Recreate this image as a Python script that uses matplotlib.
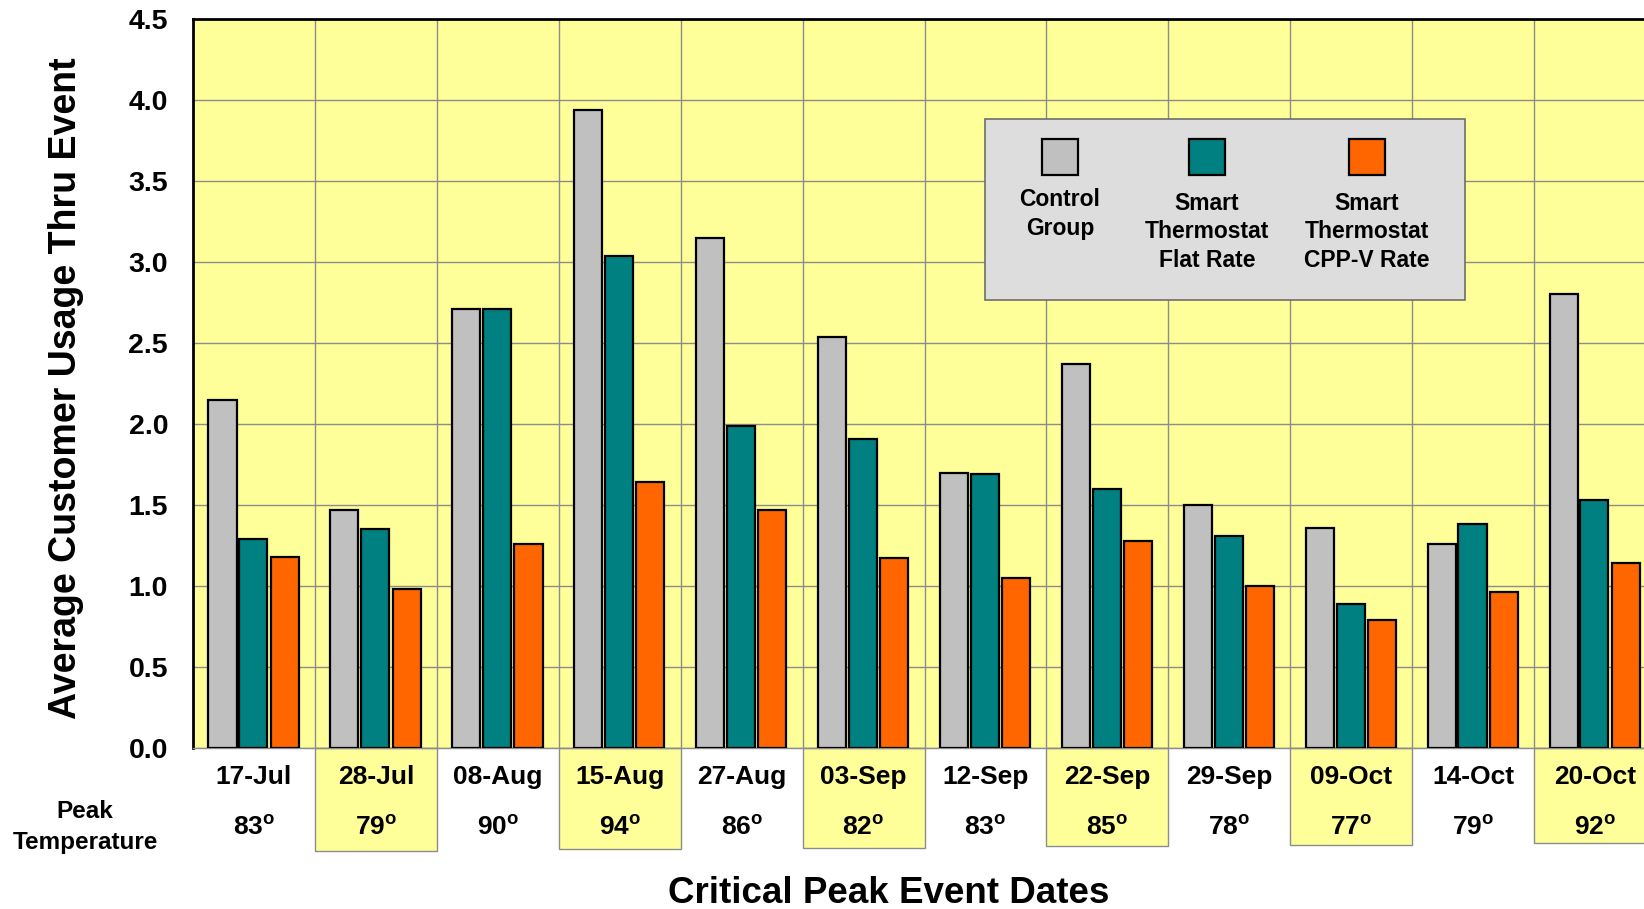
import matplotlib
matplotlib.use("Agg")
import matplotlib.pyplot as plt
import matplotlib.transforms as mtransforms
from matplotlib.patches import Rectangle
import numpy as np

# ---------------- data ----------------
dates = ["17-Jul", "28-Jul", "08-Aug", "15-Aug", "27-Aug", "03-Sep",
         "12-Sep", "22-Sep", "29-Sep", "09-Oct", "14-Oct", "20-Oct"]
peak_temps = [83, 79, 90, 94, 86, 82, 83, 85, 78, 77, 79, 92]
control_group = [2.15, 1.47, 2.71, 3.94, 3.15, 2.54, 1.70, 2.37, 1.50, 1.36, 1.26, 2.80]
flat_rate = [1.29, 1.35, 2.71, 3.04, 1.99, 1.91, 1.69, 1.60, 1.31, 0.89, 1.38, 1.53]
cppv_rate = [1.18, 0.98, 1.26, 1.64, 1.47, 1.17, 1.05, 1.28, 1.00, 0.79, 0.96, 1.14]
series_names = ["Control\nGroup", "Smart\nThermostat\nFlat Rate", "Smart\nThermostat\nCPP-V Rate"]
y_ticks = [0.0, 0.5, 1.0, 1.5, 2.0, 2.5, 3.0, 3.5, 4.0, 4.5]

# ---------------- style ----------------
W, H = 1644, 909
YELLOW = "#FFFF99"
colors = ["#C0C0C0", "#008080", "#FF6600"]
FONT = ["Liberation Sans", "DejaVu Sans"]
plt.rcParams["font.family"] = FONT
plt.rcParams["font.weight"] = "bold"
plt.rcParams["mathtext.fontset"] = "custom"
plt.rcParams["mathtext.rm"] = "Liberation Sans:bold"
plt.rcParams["mathtext.bf"] = "Liberation Sans:bold"


def fx(x):
    return x / W


def fy(y):
    return 1 - y / H


fig = plt.figure(figsize=(W / 100, H / 100), dpi=100)
fig.patch.set_facecolor("white")

ax_left, ax_right, ax_top, ax_bot = 193, 1656, 19, 748
ax = fig.add_axes([fx(ax_left), fy(ax_bot), (ax_right - ax_left) / W, (ax_bot - ax_top) / H])
ax.set_facecolor(YELLOW)

n = len(dates)
x = np.arange(n)
bw = 0.23
offsets = [-0.258, -0.005, 0.252]
for vals, off, c in zip([control_group, flat_rate, cppv_rate], offsets, colors):
    ax.bar(x + off, vals, width=bw, color=c, edgecolor="black", linewidth=1.6, zorder=3)

ax.set_xlim(-0.5, n - 0.5)
ax.set_ylim(0, 4.5)
ax.set_yticks(y_ticks)
ax.set_yticklabels([f"{v:.1f}" for v in y_ticks], fontsize=20.5, fontweight="bold")
ax.tick_params(axis="y", length=0, pad=18)
ax.set_xticks(np.arange(-0.5, n, 1.0))
ax.tick_params(axis="x", length=0, labelbottom=False)
ax.grid(True, color="#8C8C8C", linewidth=1.0, zorder=0)
ax.set_axisbelow(True)

ax.spines["left"].set_color("black")
ax.spines["left"].set_linewidth(2.0)
ax.spines["top"].set_color("black")
ax.spines["top"].set_linewidth(2.0)
ax.spines["bottom"].set_color("#8C8C8C")
ax.spines["bottom"].set_linewidth(1.0)
ax.spines["right"].set_visible(False)

fig.text(fx(66), fy(388), "Average Customer Usage Thru Event", rotation=90,
         ha="center", va="center", fontsize=27, fontweight="bold")

# ---------------- category label area ----------------
blend = mtransforms.blended_transform_factory(ax.transData, fig.transFigure)
for i in range(n):
    if i % 2 == 1:
        bottom = 851 - (i - 1) * 0.8
        rect = Rectangle((i - 0.5, fy(bottom)), 1.0, fy(ax_bot) - fy(bottom),
                         transform=blend, facecolor=YELLOW, edgecolor="#8C8C8C",
                         linewidth=1.0, clip_on=False, zorder=1)
        ax.add_patch(rect)
    ax.text(i, fy(777), dates[i], transform=blend, ha="center", va="center",
            fontsize=19, fontweight="bold", clip_on=False, zorder=5)
    ax.text(i, fy(827), f"{peak_temps[i]}" + r"$^{\mathrm{o}}$", transform=blend,
            ha="center", va="center", fontsize=19, fontweight="bold", clip_on=False, zorder=5)

fig.text(fx(85), fy(827), "Peak\nTemperature", ha="center", va="center",
         fontsize=17.5, fontweight="bold", linespacing=1.4)

fig.text(fx(889), fy(903), "Critical Peak Event Dates", ha="center", va="baseline",
         fontsize=26.5, fontweight="bold")

# ---------------- legend ----------------
leg = Rectangle((fx(984.5), fy(300)), fx(1465) - fx(984.5), fy(119.5) - fy(300),
                transform=fig.transFigure, facecolor="#DDDDDD", edgecolor="#6E6E6E",
                linewidth=1.2, zorder=5)
fig.patches.append(leg)
sw_cx = [1060, 1207, 1367]
txt_cy = [214, 232, 232]
s = 36
for cx, cy, c, name in zip(sw_cx, txt_cy, colors, series_names):
    sq = Rectangle((fx(cx - s / 2), fy(157 + s / 2)), s / W, s / H,
                   transform=fig.transFigure, facecolor=c, edgecolor="black",
                   linewidth=1.6, zorder=6)
    fig.patches.append(sq)
    fig.text(fx(cx), fy(cy), name, ha="center", va="center", multialignment="center",
             fontsize=16.5, fontweight="bold", linespacing=1.3, zorder=7)

fig.savefig("out.png", dpi=100, facecolor="white")
